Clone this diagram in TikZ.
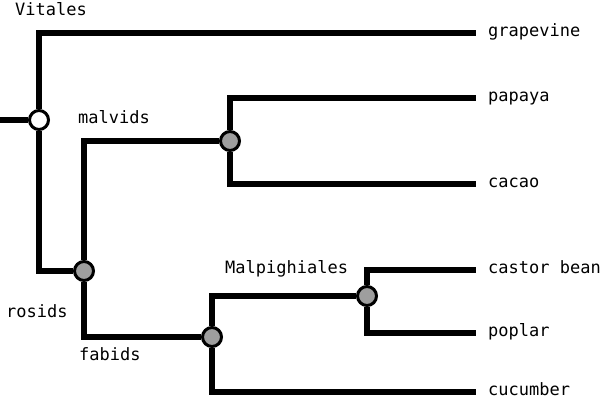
\documentclass[tikz,border=0pt]{standalone}
\usepackage{fontspec}
\setmainfont{DejaVu Sans Mono}
\usetikzlibrary{backgrounds}
\definecolor{nodegray}{RGB}{158,158,158}
\begin{document}
\begin{tikzpicture}[x=1pt,y=-1pt,
  branch/.style={line width=6pt, line join=miter},
  clade/.style={circle, draw=black, line width=3pt, fill=nodegray, minimum size=19pt, inner sep=0pt},
  rootnode/.style={clade, fill=white},
  leaf/.style={anchor=west, inner xsep=12pt, inner ysep=0pt, text height=7pt, text depth=0pt, font=\fontsize{17}{20}\selectfont},
  lbl/.style={anchor=base west, inner sep=0pt, font=\fontsize{17}{20}\selectfont}]
\useasboundingbox (0,0) rectangle (600,404);
% internal nodes
\node[rootnode] (root) at (39,120) {};
\node[clade] (rosids) at (84,271) {};
\node[clade] (malvids) at (230,141) {};
\node[clade] (fabids) at (212,337) {};
\node[clade] (malp) at (367,296) {};
\coordinate (stub) at (0,120);
% leaves
\node[leaf] (grapevine) at (476,33) {grapevine};
\node[leaf] (papaya) at (476,98) {papaya};
\node[leaf] (cacao) at (476,184) {cacao};
\node[leaf] (castor) at (476,270) {castor bean};
\node[leaf] (poplar) at (476,333) {poplar};
\node[leaf] (cucumber) at (476,392) {cucumber};
% clade labels
\node[lbl] (lVitales) at (15,16) {Vitales};
\node[lbl] (lmalvids) at (78,123) {malvids};
\node[lbl] (lrosids) at (6,317) {rosids};
\node[lbl] (lfabids) at (79,360) {fabids};
\node[lbl] (lmalp) at (225,273) {Malpighiales};
% branches
\begin{scope}[on background layer]
\fill[white] (0,0) rectangle (600,404);
\draw[branch] (stub) -- (root);
\draw[branch] (root) |- (grapevine.west);
\draw[branch] (root) |- (rosids);
\draw[branch] (rosids) |- (malvids);
\draw[branch] (rosids) |- (fabids);
\draw[branch] (malvids) |- (papaya.west);
\draw[branch] (malvids) |- (cacao.west);
\draw[branch] (fabids) |- (malp);
\draw[branch] (fabids) |- (cucumber.west);
\draw[branch] (malp) |- (castor.west);
\draw[branch] (malp) |- (poplar.west);
\end{scope}
\end{tikzpicture}
\end{document}
